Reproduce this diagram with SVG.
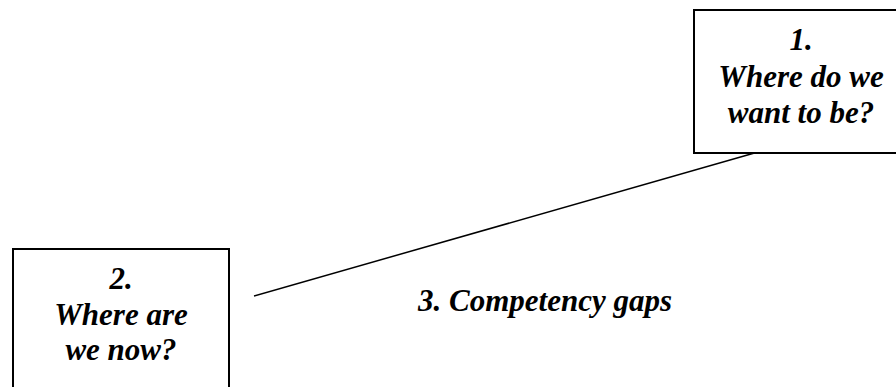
<svg xmlns="http://www.w3.org/2000/svg" width="896" height="387" viewBox="0 0 896 387">
<style>
.box{fill:#fff;stroke:#000;stroke-width:2}
.t{font-family:"Liberation Serif","Times New Roman",serif;font-weight:bold;font-style:italic;font-size:31px;fill:#000;text-anchor:middle}
.c{stroke:#000;stroke-width:1.5;fill:none}
</style>
<rect width="896" height="387" fill="#fff"/>
<g id="connectors">
<line class="c" x1="254" y1="296" x2="758" y2="152"/>
</g>
<g id="node1">
<rect class="box" x="694" y="10" width="214" height="143"/>
<text class="t" x="801" y="50">1.</text>
<text class="t" x="801" y="87">Where do we</text>
<text class="t" x="801" y="123">want to be?</text>
</g>
<g id="node2">
<rect class="box" x="13" y="249" width="216" height="150"/>
<text class="t" x="121" y="289">2.</text>
<text class="t" x="121" y="325">Where are</text>
<text class="t" x="121" y="360">we now?</text>
</g>
<g id="label3">
<text class="t" x="545" y="311">3. Competency gaps</text>
</g>
</svg>
